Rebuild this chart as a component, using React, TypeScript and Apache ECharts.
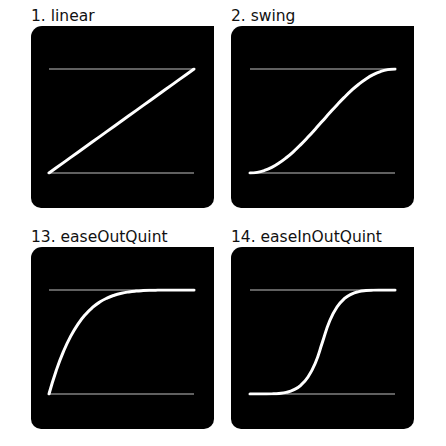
import React, { useEffect, useRef } from "react";
import * as echarts from "echarts";

const titles = ["1. linear", "2. swing", "13. easeOutQuint", "14. easeInOutQuint"];
const progress = [0, 0.05, 0.1, 0.15, 0.2, 0.25, 0.3, 0.35, 0.4, 0.45, 0.5, 0.55, 0.6, 0.65, 0.7, 0.75, 0.8, 0.85, 0.9, 0.95, 1];
const linearValues = [0, 0.05, 0.1, 0.15, 0.2, 0.25, 0.3, 0.35, 0.4, 0.45, 0.5, 0.55, 0.6, 0.65, 0.7, 0.75, 0.8, 0.85, 0.9, 0.95, 1];
const swingValues = [0, 0.0062, 0.0245, 0.0545, 0.0955, 0.1464, 0.2061, 0.273, 0.3455, 0.4218, 0.5, 0.5782, 0.6545, 0.727, 0.7939, 0.8536, 0.9045, 0.9455, 0.9755, 0.9938, 1];
const easeOutQuintValues = [0, 0.2262, 0.4095, 0.5563, 0.6723, 0.7627, 0.8319, 0.884, 0.9222, 0.9497, 0.9688, 0.9815, 0.9898, 0.9947, 0.9976, 0.999, 0.9997, 0.9999, 1, 1, 1];
const easeInOutQuintValues = [0, 0.00001, 0.0002, 0.0012, 0.0051, 0.0156, 0.0389, 0.084, 0.1638, 0.2952, 0.5, 0.7048, 0.8362, 0.916, 0.9611, 0.9844, 0.9949, 0.9988, 0.9998, 1, 1];
const yTicks = [0, 1];

const allValues = [linearValues, swingValues, easeOutQuintValues, easeInOutQuintValues];

export default function App() {
  const ref = useRef<HTMLDivElement>(null);
  useEffect(() => {
    if (!ref.current) return;
    const chart = echarts.init(ref.current, null, { renderer: "svg" });
    const cols = [
      { box: 31, plot: 49, title: 31 },
      { box: 231, plot: 250, title: 231 },
    ];
    const rows = [
      { box: 26, plot: 69, title: 8 },
      { box: 247, plot: 290, title: 229 },
    ];
    const grids: any[] = [];
    const xAxes: any[] = [];
    const yAxes: any[] = [];
    const series: any[] = [];
    const titleOpts: any[] = [];
    const graphics: any[] = [];
    allValues.forEach((vals, i) => {
      const c = cols[i % 2];
      const r = rows[Math.floor(i / 2)];
      graphics.push({
        type: "rect",
        left: c.box,
        top: r.box,
        z: -10,
        shape: { width: 183, height: 182, r: [11, 0, 10, 10] },
        style: { fill: "#000" },
        silent: true,
      });
      titleOpts.push({
        text: titles[i],
        left: c.title,
        top: r.title,
        padding: 0,
        textStyle: { fontFamily: "DejaVu Sans", fontSize: 15.5, fontWeight: "normal", color: "#111" },
      });
      grids.push({ left: c.plot, top: r.plot, width: 145, height: 104, show: false });
      xAxes.push({
        type: "value",
        gridIndex: i,
        min: 0,
        max: 1,
        show: false,
      });
      yAxes.push({
        type: "value",
        gridIndex: i,
        min: yTicks[0],
        max: yTicks[1],
        interval: 1,
        axisLine: { show: false },
        axisTick: { show: false },
        axisLabel: { show: false },
        splitLine: { show: true, lineStyle: { color: "#808080", width: 1.5 } },
      });
      series.push({
        type: "line",
        xAxisIndex: i,
        yAxisIndex: i,
        data: progress.map((p, k) => [p, vals[k]]),
        showSymbol: false,
        symbol: "none",
        smooth: i === 0 ? false : 0.5,
        lineStyle: { color: "#fff", width: 3, cap: "round", join: "round" },
        z: 5,
      });
    });
    chart.setOption({
      animation: false,
      backgroundColor: "#fff",
      title: titleOpts,
      grid: grids,
      xAxis: xAxes,
      yAxis: yAxes,
      series,
      graphic: graphics,
    });
    return () => chart.dispose();
  }, []);
  return (
    <div
      ref={ref}
      style={{ position: "fixed", left: 0, top: 0, width: 446, height: 446 }}
    />
  );
}
